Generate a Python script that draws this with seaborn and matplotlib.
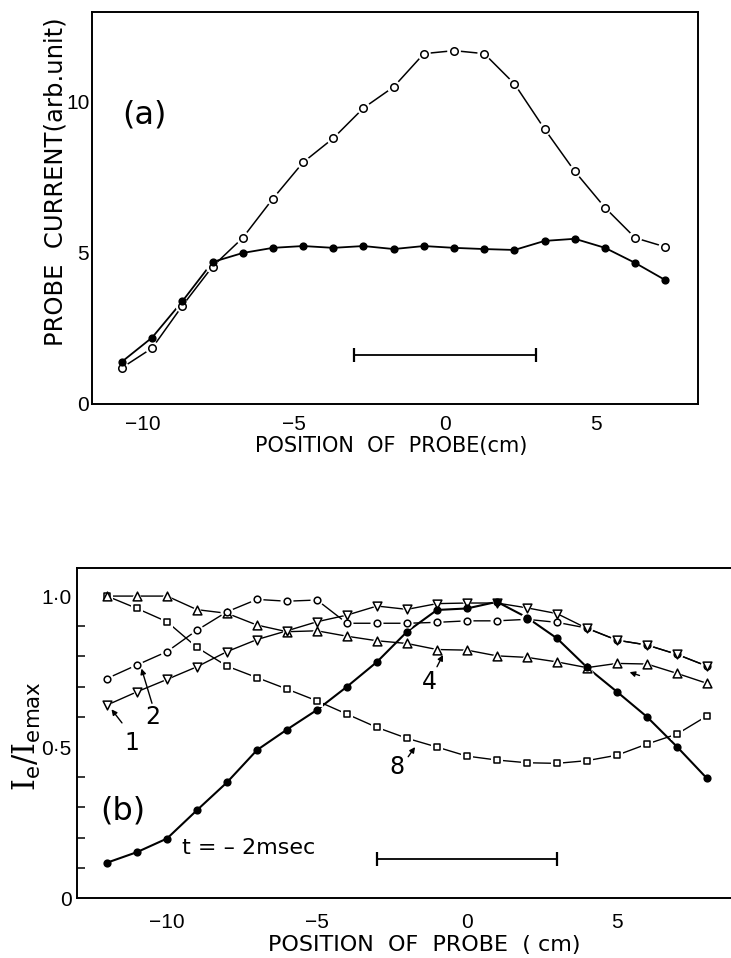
import matplotlib
matplotlib.use("Agg")
import matplotlib.pyplot as plt
from matplotlib import font_manager
import pandas as pd
import seaborn as sns

# ---------------- data: panel (a) ----------------
pos_a = [-10.7, -9.7, -8.7, -7.7, -6.7, -5.7, -4.7, -3.7, -2.7, -1.7,
         -0.7, 0.3, 1.3, 2.3, 3.3, 4.3, 5.3, 6.3, 7.3]
open_a = [1.2, 1.85, 3.25, 4.55, 5.5, 6.8, 8.0, 8.8, 9.8, 10.5,
          11.6, 11.7, 11.6, 10.6, 9.1, 7.7, 6.5, 5.5, 5.2]
filled_a = [1.4, 2.2, 3.4, 4.7, 5.0, 5.17, 5.23, 5.17, 5.23, 5.13,
            5.23, 5.17, 5.13, 5.1, 5.4, 5.47, 5.17, 4.67, 4.1]
xticks_a = [-10, -5, 0, 5]
xticklabels_a = ["\u221210", "\u22125", "0", "5"]
yticks_a = [0, 5, 10]
yticklabels_a = ["0", "5", "10"]
bar_a_x = [-3, 3]
bar_a_y = [1.62, 1.62]

# ---------------- data: panel (b) ----------------
pos_b = [-12, -11, -10, -9, -8, -7, -6, -5, -4, -3, -2, -1, 0, 1, 2, 3, 4, 5, 6, 7, 8]
curve_1 = [0.639, 0.683, 0.724, 0.766, 0.816, 0.856, 0.885, 0.915, 0.937, 0.967, 0.956,
           0.975, 0.977, 0.977, 0.961, 0.942, 0.893, 0.854, 0.838, 0.807, 0.768]   # down triangles
curve_2 = [0.727, 0.772, 0.816, 0.887, 0.948, 0.989, 0.983, 0.987, 0.91, 0.91, 0.91,
           0.913, 0.918, 0.918, 0.923, 0.913, 0.894, 0.854, 0.838, 0.807, 0.768]   # open circles
curve_4 = [1.0, 1.0, 1.0, 0.955, 0.943, 0.904, 0.882, 0.885, 0.867, 0.852, 0.843,
           0.823, 0.821, 0.802, 0.797, 0.782, 0.763, 0.777, 0.775, 0.744, 0.711]   # up triangles
curve_8 = [1.0, 0.959, 0.915, 0.830, 0.768, 0.730, 0.692, 0.653, 0.609, 0.565, 0.529,
           0.50, 0.47, 0.457, 0.448, 0.446, 0.455, 0.473, 0.51, 0.543, 0.603]       # squares
curve_m2 = [0.117, 0.152, 0.197, 0.291, 0.383, 0.49, 0.558, 0.623, 0.70, 0.782, 0.882,
            0.954, 0.959, 0.981, 0.929, 0.86, 0.764, 0.683, 0.60, 0.501, 0.396]    # t = -2 msec
xticks_b = [-10, -5, 0, 5]
xticklabels_b = ["\u221210", "\u22125", "0", "5"]
yticks_b = [0, 0.5, 1.0]
yticklabels_b = ["0", "0\u00b75", "1\u00b70"]
bar_b_x = [-3, 3]
bar_b_y = [0.13, 0.13]

# ---------------- style ----------------
sns.set_theme(style="white")
plt.rcParams["font.family"] = ["DejaVu Sans"]
plt.rcParams["text.color"] = "black"
plt.rcParams["axes.labelcolor"] = "black"
plt.rcParams["mathtext.fontset"] = "custom"
plt.rcParams["mathtext.rm"] = "DejaVu Serif"
plt.rcParams["mathtext.sf"] = "DejaVu Sans"
plt.rcParams["mathtext.it"] = "DejaVu Sans"

_names = {f.name for f in font_manager.fontManager.ttflist}
if "Liberation Sans Narrow" in _names:
    TICK_FONT, TICK_SIZE = "Liberation Sans Narrow", 17
else:
    TICK_FONT, TICK_SIZE = "Liberation Sans", 15

fig = plt.figure(figsize=(7.31, 9.58), dpi=100)
fig.patch.set_facecolor("white")


def series(ax, x, y, marker, size, filled, lw, halo=True):
    df = pd.DataFrame({"x": x, "y": y})
    sns.lineplot(data=df, x="x", y="y", ax=ax, color="black", linewidth=lw,
                 sort=False, estimator=None, zorder=2)
    if halo:
        sns.scatterplot(data=df, x="x", y="y", ax=ax, marker=marker,
                        s=(size + 4.5) ** 2, color="white", edgecolor="none",
                        linewidth=0, zorder=3)
    sns.scatterplot(data=df, x="x", y="y", ax=ax, marker=marker, s=size ** 2,
                    color="black" if filled else "white", edgecolor="black",
                    linewidth=1.1, zorder=4)


def style_axes(ax):
    for sp in ax.spines.values():
        sp.set_linewidth(1.4)
        sp.set_color("black")
    ax.set_facecolor("white")
    ax.grid(False)
    for lab in ax.get_xticklabels() + ax.get_yticklabels():
        lab.set_fontfamily(TICK_FONT)
        lab.set_fontsize(TICK_SIZE)
        lab.set_color("black")


# ---------------- panel (a) ----------------
axa = fig.add_axes([0.1259, 0.5783, 0.829, 0.4092])
series(axa, pos_a, open_a, "o", 5.4, False, 1.1, halo=True)
series(axa, pos_a, filled_a, "o", 4.8, True, 1.3, halo=False)
axa.plot(bar_a_x, bar_a_y, color="black", lw=1.3, marker="|", markersize=10,
         markeredgewidth=1.6)
axa.set_xlim(-11.69, 8.38)
axa.set_ylim(0, 12.98)
axa.set_xticks(xticks_a)
axa.set_xticklabels(xticklabels_a)
axa.set_yticks(yticks_a)
axa.set_yticklabels(yticklabels_a)
axa.tick_params(axis="both", direction="in", length=8, width=1.4, colors="black")
axa.tick_params(axis="x", pad=8)
axa.tick_params(axis="y", pad=2)
style_axes(axa)
axa.set_xlabel("POSITION  OF  PROBE(cm)", fontsize=15)
axa.xaxis.set_label_coords(0.493, -0.082)
axa.xaxis.label.set_va("top")
axa.set_ylabel("PROBE  CURRENT(arb.unit)", fontsize=17.5)
axa.yaxis.set_label_coords(-0.040, 0.566)
axa.text(-9.97, 9.57, "(a)", fontsize=23, ha="center", va="center")

# ---------------- panel (b) ----------------
axb = fig.add_axes([0.1053, 0.0626, 0.8947, 0.3445])
series(axb, pos_b, curve_8, "s", 4.6, False, 1.0)
series(axb, pos_b, curve_4, "^", 6.3, False, 1.0)
series(axb, pos_b, curve_2, "o", 4.8, False, 1.0)
series(axb, pos_b, curve_1, "v", 6.3, False, 1.0)
series(axb, pos_b, curve_m2, "o", 4.8, True, 1.5, halo=False)
axb.plot(bar_b_x, bar_b_y, color="black", lw=1.3, marker="|", markersize=10,
         markeredgewidth=1.6)
axb.set_xlim(-13, 8.8)
axb.set_ylim(0, 1.093)
axb.set_xticks(xticks_b)
axb.set_xticklabels(xticklabels_b)
axb.set_yticks(yticks_b)
axb.set_yticklabels(yticklabels_b)
axb.set_yticks([0.1, 0.2, 0.3, 0.4, 0.6, 0.7, 0.8, 0.9], minor=True)
axb.tick_params(axis="both", which="major", direction="in", length=9, width=1.4,
                colors="black")
axb.tick_params(axis="y", which="minor", direction="in", length=6, width=1.3,
                left=True)
axb.tick_params(axis="x", pad=11)
axb.tick_params(axis="y", pad=4)
style_axes(axb)
axb.spines["right"].set_visible(False)
axb.set_xlabel("POSITION  OF  PROBE  ( cm)", fontsize=16)
axb.xaxis.set_label_coords(0.531, -0.112)
axb.xaxis.label.set_va("top")
axb.set_ylabel(r"$\mathrm{I}_{\mathsf{e}}/\mathrm{I}_{\mathsf{emax}}$", fontsize=22)
axb.yaxis.set_label_coords(-0.052, 0.49)

arrow_kw = dict(arrowstyle="-|>", color="black", lw=1.0, mutation_scale=8,
                shrinkA=0, shrinkB=0)
axb.annotate("", xy=(-11.85, 0.625), xytext=(-11.5, 0.58), arrowprops=arrow_kw)
axb.text(-11.18, 0.515, "1", fontsize=17, ha="center", va="center")
axb.annotate("", xy=(-10.85, 0.76), xytext=(-10.5, 0.645), arrowprops=arrow_kw)
axb.text(-10.46, 0.60, "2", fontsize=17, ha="center", va="center")
axb.annotate("", xy=(-0.8, 0.805), xytext=(-1.0, 0.766), arrowprops=arrow_kw)
axb.text(-1.26, 0.716, "4", fontsize=17, ha="center", va="center")
axb.annotate("", xy=(-1.73, 0.50), xytext=(-1.96, 0.468), arrowprops=arrow_kw)
axb.text(-2.34, 0.434, "8", fontsize=17, ha="center", va="center")
axb.annotate("", xy=(5.42, 0.748), xytext=(5.75, 0.737), arrowprops=arrow_kw)

axb.text(-9.5, 0.166, "t = \u2013 2msec", fontsize=16, ha="left", va="center")
axb.text(-11.47, 0.288, "(b)", fontsize=23, ha="center", va="center")

fig.savefig("out.png", dpi=100, facecolor="white")
